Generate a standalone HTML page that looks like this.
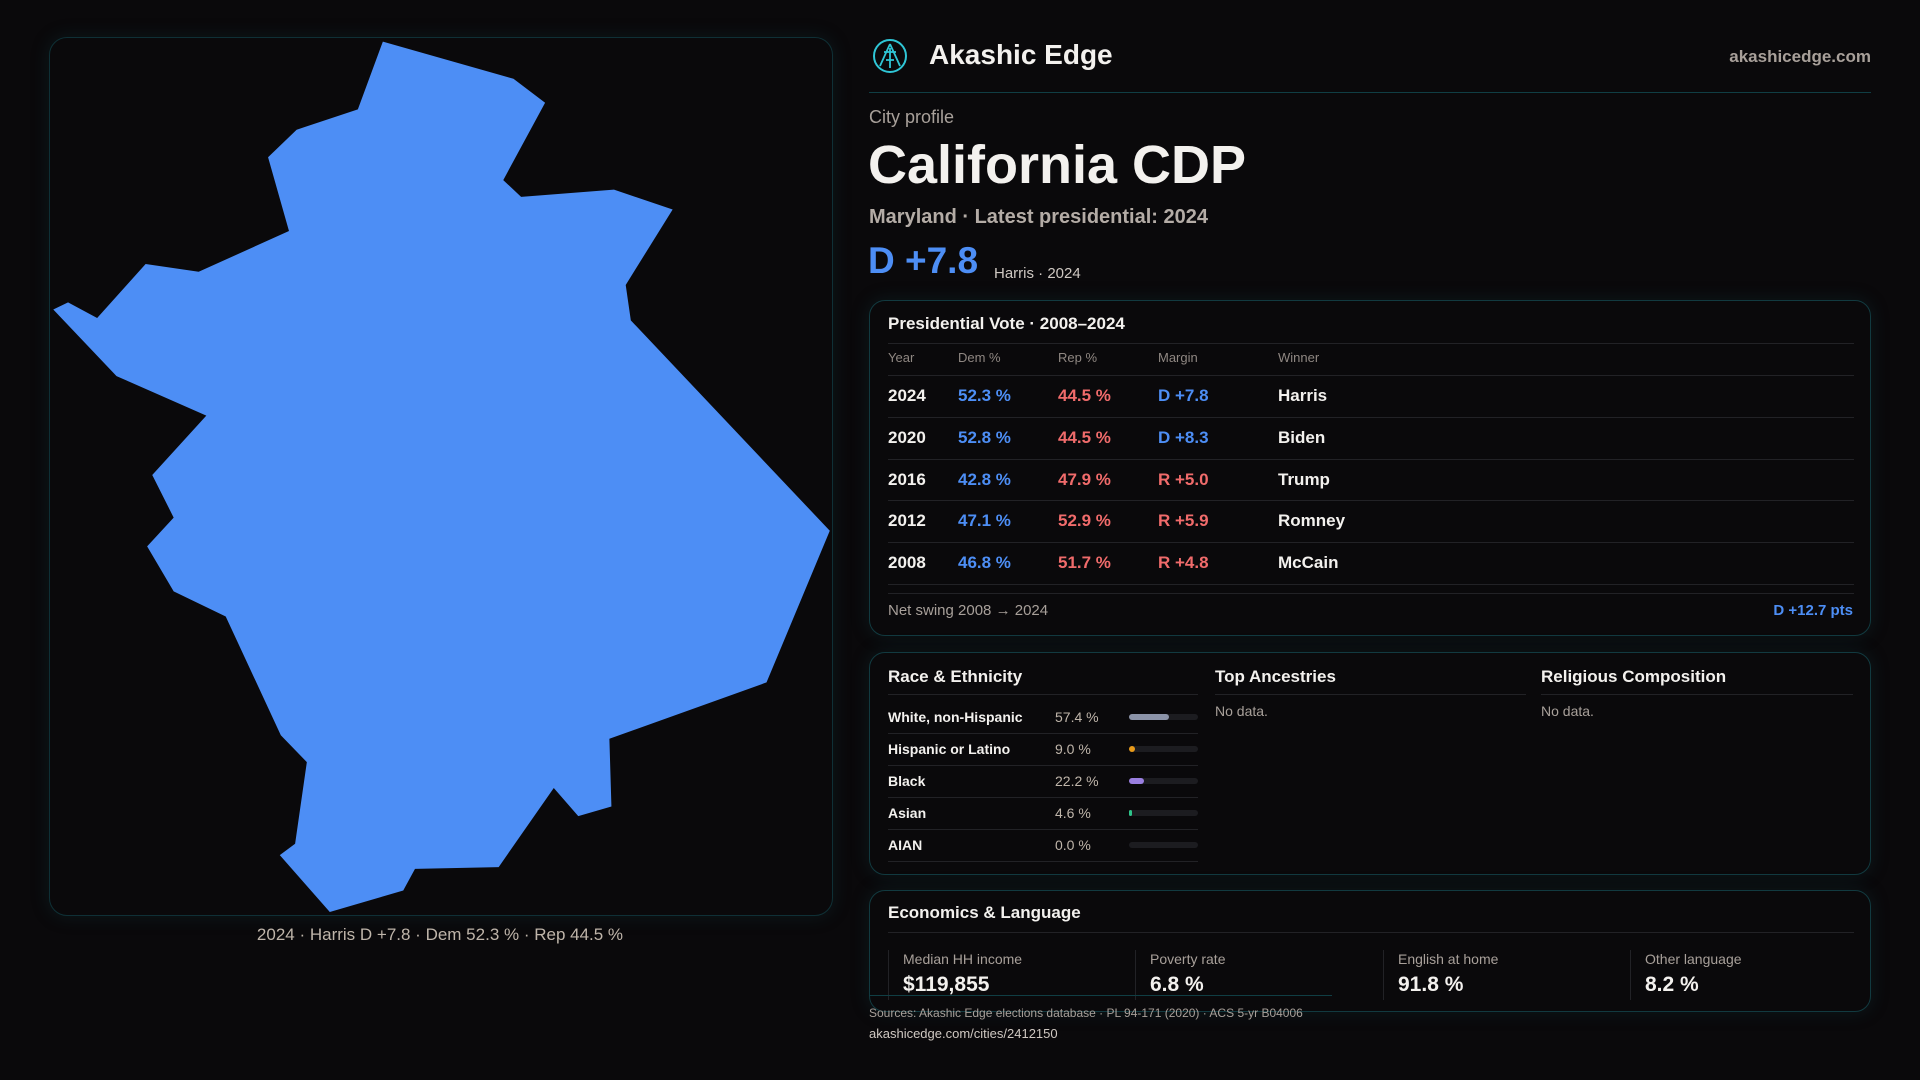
<!DOCTYPE html>
<html><head><meta charset="utf-8">
<style>
*{margin:0;padding:0;box-sizing:border-box}
body{width:1920px;height:1080px;background:#0a090b;font-family:"Liberation Sans",sans-serif;color:#f3f1ee;position:relative;overflow:hidden}
.abs{position:absolute;white-space:nowrap}
.card{position:absolute;border:1px solid #123a40;border-radius:16px;background:#0a090b;box-shadow:0 0 18px rgba(20,70,80,0.25)}
.muted{color:#a8a09a}
.blue{color:#4d8ef5}.red{color:#f06b6b}
.hline{position:absolute;height:1px;background:#222226}
</style></head><body>
<div class="card" style="left:49px;top:37px;width:784px;height:879px;border-radius:18px;border-color:#0f3036"></div>
<svg class="abs" style="left:40px;top:20px" width="800" height="940" viewBox="0 0 1568 1568" preserveAspectRatio="none">
<polygon fill="#4d8ef5" points="672,36 928,98 990,138 908,267 943,295 1125,283 1240,316 1148,442 1158,501 1548,852 1424,1105 1116,1199 1120,1312 1055,1328 1007,1281 899,1413 735,1416 712,1452 568,1488 470,1393 500,1374 523,1238 472,1193 364,995 262,953 210,878 262,830 220,759 326,660 150,594 26,483 55,471 112,497 207,407 311,420 488,352 447,229 503,183 623,149"/>
</svg>
<div class="abs" style="left:40px;width:800px;top:925px;text-align:center;font-size:17px;color:#bfb5aa">2024 · Harris D +7.8 · Dem 52.3 % · Rep 44.5 %</div>

<svg class="abs" style="left:872px;top:38px" width="36" height="36" viewBox="0 0 36 36">
<circle cx="18" cy="18" r="16" fill="none" stroke="#2fc6d6" stroke-width="2"/>
<path d="M18 6 L8 28 M18 6 L28 28 M12 14 L24 14 M18 10 L18 30 M14 22 L22 22" stroke="#2fc6d6" stroke-width="1.8" fill="none"/>
</svg>
<div class="abs" style="left:929px;top:39px;font-size:28px;font-weight:bold">Akashic Edge</div>
<div class="abs muted" style="right:49px;top:47px;font-size:17px;font-weight:bold">akashicedge.com</div>
<div class="hline" style="left:869px;width:1002px;top:92px;background:#103e44"></div>

<div class="abs muted" style="left:869px;top:107px;font-size:18px">City profile</div>
<div class="abs" style="left:868px;top:134px;font-size:54px;font-weight:bold">California CDP</div>
<div class="abs" style="left:869px;top:206px;font-size:20px;font-weight:bold;color:#b4aca6">Maryland · Latest presidential: 2024</div>
<div class="abs blue" style="left:868px;top:240px;font-size:37px;font-weight:bold">D +7.8</div>
<div class="abs" style="left:994px;top:265px;font-size:15px;color:#cfc8c2">Harris · 2024</div>

<div class="card" style="left:869px;top:300px;width:1002px;height:336px"></div>
<div class="abs" style="left:888px;top:314px;font-size:17px;font-weight:bold">Presidential Vote · 2008–2024</div>
<div class="hline" style="left:888px;width:966px;top:343px"></div>
<div id="vote"></div>
<div class="hline" style="left:888px;width:966px;top:593px"></div>
<div class="abs muted" style="left:888px;top:602px;font-size:15px">Net swing 2008 → 2024</div>
<div class="abs blue" style="right:67px;top:602px;font-size:15px;font-weight:bold">D +12.7 pts</div>

<div class="card" style="left:869px;top:652px;width:1002px;height:223px"></div>
<div class="abs" style="left:888px;top:667px;font-size:17px;font-weight:bold">Race &amp; Ethnicity</div>
<div class="hline" style="left:888px;width:310px;top:694px"></div>
<div id="race"></div>
<div class="abs" style="left:1215px;top:667px;font-size:17px;font-weight:bold">Top Ancestries</div>
<div class="hline" style="left:1215px;width:311px;top:694px"></div>
<div class="abs muted" style="left:1215px;top:703px;font-size:14px">No data.</div>
<div class="abs" style="left:1541px;top:667px;font-size:17px;font-weight:bold">Religious Composition</div>
<div class="hline" style="left:1541px;width:312px;top:694px"></div>
<div class="abs muted" style="left:1541px;top:703px;font-size:14px">No data.</div>

<div class="card" style="left:869px;top:890px;width:1002px;height:122px"></div>
<div class="abs" style="left:888px;top:903px;font-size:17px;font-weight:bold">Economics &amp; Language</div>
<div class="hline" style="left:888px;width:966px;top:932px"></div>
<div id="econ"></div>
<div class="hline" style="left:869px;width:463px;top:995px;background:#103e44"></div>
<div class="abs muted" style="left:869px;top:1006px;font-size:12px">Sources: Akashic Edge elections database · PL 94-171 (2020) · ACS 5-yr B04006</div>
<div class="abs" style="left:869px;top:1026px;font-size:13px;color:#cfc8c2">akashicedge.com/cities/2412150</div>

<script>
const years=["2024","2020","2016","2012","2008"];
const demPct=[52.3,52.8,42.8,47.1,46.8];
const repPct=[44.5,44.5,47.9,52.9,51.7];
const marginVals=[7.8,8.3,-5.0,-5.9,-4.8];
const winners=["Harris","Biden","Trump","Romney","McCain"];
const raceLabels=["White, non-Hispanic","Hispanic or Latino","Black","Asian","AIAN"];
const racePct=[57.4,9.0,22.2,4.6,0.0];
const raceColors=["#8b93a8","#e89a1a","#9a7fe0","#2ec48a","#555"];
const econLabels=["Median HH income","Poverty rate","English at home","Other language"];
const econValues=["$119,855","6.8 %","91.8 %","8.2 %"];

function mk(parent,css,text){const d=document.createElement('div');d.className='abs';d.style.cssText=css;if(text!==undefined)d.textContent=text;parent.appendChild(d);return d;}
const vote=document.getElementById('vote');
const heads=["Year","Dem %","Rep %","Margin","Winner"];const cols=[888,958,1058,1158,1278];
heads.forEach((h,i)=>{const d=mk(vote,`left:${cols[i]}px;top:350px;font-size:13px;color:#8f8782`,h);

});
const ln0=mk(vote,'left:888px;width:966px;top:375px;height:1px;background:#222226');


const rowY=i=>375+i*41.8;
years.forEach((y,i)=>{
 const m=marginVals[i];const mt=(m>=0?'D +':'R +')+Math.abs(m).toFixed(1);
 const cells=[[y,'#f3f1ee'],[demPct[i].toFixed(1)+' %','#4d8ef5'],[repPct[i].toFixed(1)+' %','#f06b6b'],[mt,m>=0?'#4d8ef5':'#f06b6b'],[winners[i],'#f3f1ee']];
 cells.forEach((c,j)=>{const d=mk(vote,`left:${cols[j]}px;top:${rowY(i)+11}px;font-size:17px;font-weight:bold;color:${c[1]}`,c[0]);
 
 });
 const l=mk(vote,`left:888px;width:966px;top:${rowY(i+1)}px;height:1px;background:#222226`);
 
 
});
const race=document.getElementById('race');
const bx=1129,bw=69;const xs=v=>bw*v/100;
raceLabels.forEach((lab,i)=>{const y=701+i*32;
 const a=mk(race,`left:888px;top:${y+8}px;font-size:14px;font-weight:bold`,lab);
 
 
 const b=mk(race,`left:1055px;top:${y+8}px;font-size:14px;color:#bfb5aa`,racePct[i].toFixed(1)+' %');
 
 
 const t=mk(race,`left:${bx}px;top:${y+13}px;width:${bw}px;height:6px;border-radius:3px;background:#1c1c20`);
 
 
 const f=mk(race,`left:${bx}px;top:${y+13}px;width:${Math.max(xs(racePct[i]),racePct[i]>0?2:0)}px;height:6px;border-radius:3px;background:${raceColors[i]}`);
 
 
 const l=mk(race,`left:888px;width:310px;top:${y+32}px;height:1px;background:#222226`);
 
 
});
const econ=document.getElementById('econ');const ex=[888,1135,1383,1630];
econLabels.forEach((lab,i)=>{
 const s=mk(econ,`left:${ex[i]}px;top:950px;width:1px;height:50px;background:#222226`);
 
 
 const a=mk(econ,`left:${ex[i]+15}px;top:951px;font-size:14px;color:#a8a09a`,lab);
 
 
 const b=mk(econ,`left:${ex[i]+15}px;top:973px;font-size:21px;font-weight:bold`,econValues[i]);
 
 
});
</script>
</body></html>
